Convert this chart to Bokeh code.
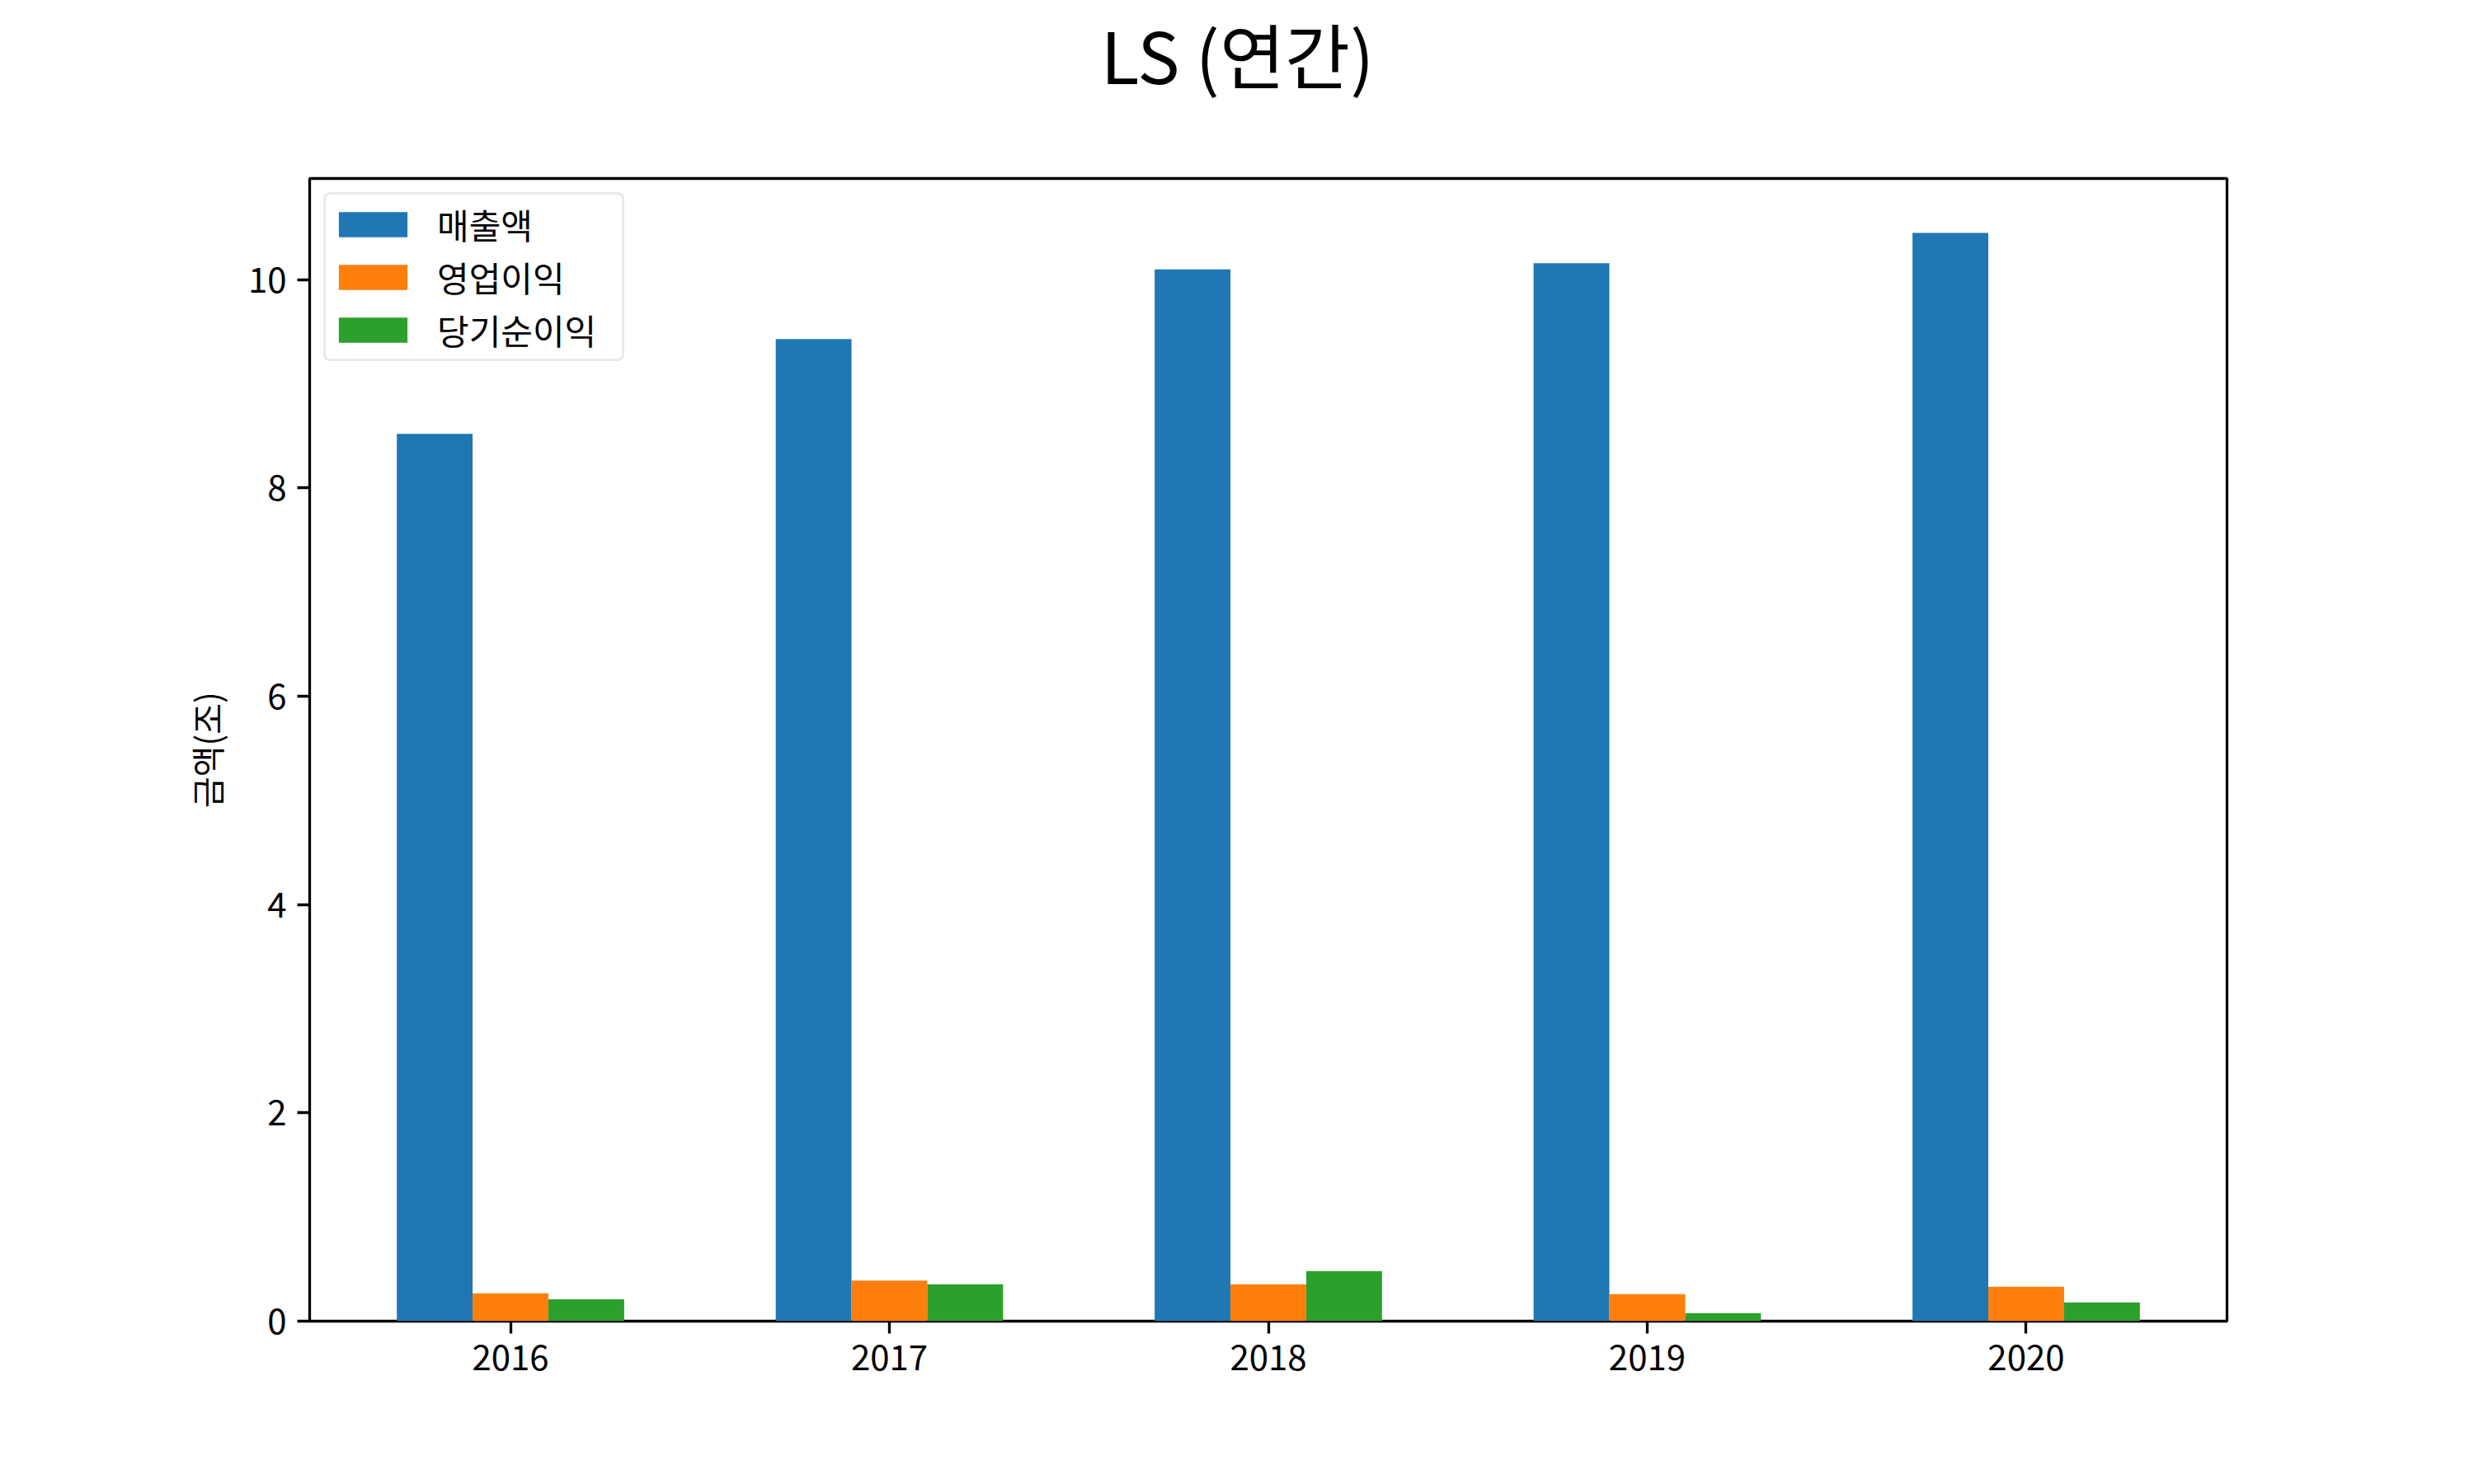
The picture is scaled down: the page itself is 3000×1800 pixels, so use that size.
from bokeh.plotting import figure
from bokeh.models import Range1d, FixedTicker, Legend, LegendItem, ColumnDataSource, Label
from bokeh.layouts import column
from bokeh.transform import dodge
from bokeh.embed import file_html
from bokeh.resources import INLINE

years = ["2016", "2017", "2018", "2019", "2020"]
revenue = [8.52, 9.43, 10.10, 10.16, 10.45]          # 매출액
op_income = [0.267, 0.39, 0.354, 0.26, 0.33]         # 영업이익
net_income = [0.21, 0.354, 0.481, 0.077, 0.18]       # 당기순이익
series_names = ["매출액", "영업이익", "당기순이익"]
colors = ["#1f77b4", "#ff7f0e", "#2ca02c"]
yticks = [0, 2, 4, 6, 8, 10]
title_text = "LS (연간)"

FONT = "Noto Sans CJK KR"
W, H = 3000, 1800
TITLE_H = 200                    # header strip holding the figure title
ML, MR, MT, MB = 375, 300, 216, 198

# ---- header strip with the centred suptitle (its frame is aligned with the chart's) ----
head = figure(width=W, height=TITLE_H, output_backend="svg", toolbar_location=None,
              x_range=Range1d(0, 1), y_range=Range1d(0, 1), min_border=0,
              background_fill_color="white", border_fill_color="white")
head.axis.visible = False
head.grid.visible = False
head.outline_line_color = None
head.add_layout(Label(x=W / 2 - ML, y=TITLE_H - 64, x_units="screen", y_units="screen",
                      text=title_text, text_font=FONT, text_font_size="86px",
                      text_color="black", text_align="center", text_baseline="middle"))

# ---- main chart ----
idx = list(range(len(years)))
src = ColumnDataSource(dict(x=idx, rev=revenue, op=op_income, net=net_income))

ymax = max(revenue) * 1.05
p = figure(width=W, height=H - TITLE_H, output_backend="svg", toolbar_location=None,
           x_range=Range1d(-0.53, len(years) - 1 + 0.53), y_range=Range1d(0, ymax),
           min_border_left=ML, min_border_right=MR, min_border_top=MT - TITLE_H,
           min_border_bottom=MB,
           background_fill_color="white", border_fill_color="white")

w = 0.2
r1 = p.vbar(x=dodge("x", -w, range=p.x_range), top="rev", width=w, source=src,
            fill_color=colors[0], line_color=None)
r2 = p.vbar(x=dodge("x", 0, range=p.x_range), top="op", width=w, source=src,
            fill_color=colors[1], line_color=None)
r3 = p.vbar(x=dodge("x", w, range=p.x_range), top="net", width=w, source=src,
            fill_color=colors[2], line_color=None)

p.xgrid.visible = False
p.ygrid.visible = False
p.outline_line_color = "black"
p.outline_line_width = 3.3
p.outline_line_alpha = 1.0

p.xaxis.ticker = FixedTicker(ticks=idx)
p.xaxis.major_label_overrides = {i: y for i, y in zip(idx, years)}
p.yaxis.ticker = FixedTicker(ticks=yticks)
for ax in (p.xaxis, p.yaxis):
    ax.axis_line_color = None
    ax.major_tick_line_width = 3.3
    ax.major_tick_line_color = "black"
    ax.major_tick_out = 15
    ax.major_tick_in = 0
    ax.minor_tick_line_color = None
    ax.major_label_text_font = FONT
    ax.major_label_text_font_size = "42px"
    ax.major_label_text_color = "black"
    ax.major_label_standoff = 13

p.yaxis.axis_label = "금액(조)"
p.yaxis.axis_label_text_font = FONT
p.yaxis.axis_label_text_font_size = "41px"
p.yaxis.axis_label_text_font_style = "normal"
p.yaxis.axis_label_text_color = "black"
p.yaxis.axis_label_standoff = 18

legend = Legend(items=[LegendItem(label=series_names[0], renderers=[r1]),
                       LegendItem(label=series_names[1], renderers=[r2]),
                       LegendItem(label=series_names[2], renderers=[r3])],
                location="top_left")
legend.label_text_font = FONT
legend.label_text_font_size = "42px"
legend.label_text_color = "black"
legend.glyph_width = 104
legend.glyph_height = 38
legend.label_standoff = 26
legend.label_width = 219
legend.spacing = 3
legend.padding = 5
legend.margin = 17
legend.border_line_color = "#d6d6d6"
legend.border_line_width = 3.3
legend.background_fill_color = "white"
legend.background_fill_alpha = 0.8
if "border_radius" in Legend.properties():
    legend.border_radius = 8
p.add_layout(legend)

layout = column(head, p, spacing=0)
open("out.html", "w").write(file_html(layout, INLINE))
